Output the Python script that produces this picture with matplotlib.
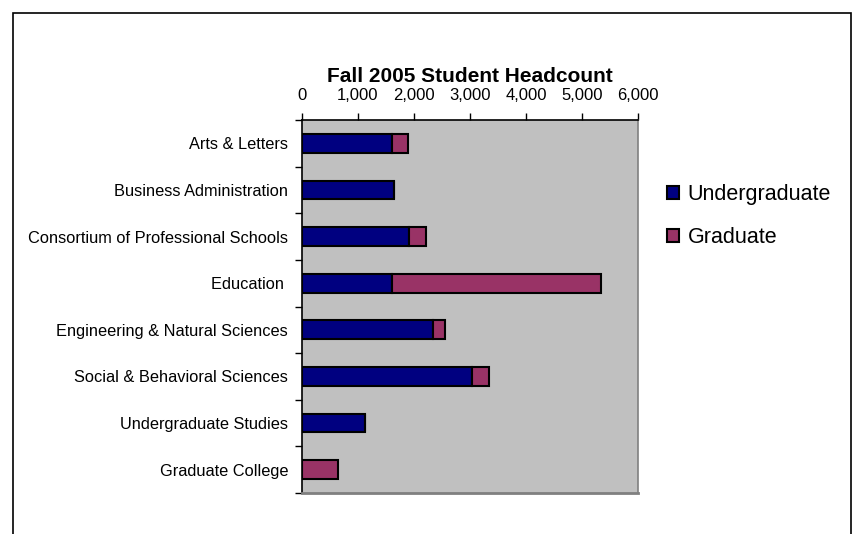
import matplotlib
matplotlib.use('Agg')
import matplotlib.pyplot as plt
import numpy as np

plt.rcParams['font.family'] = ['Liberation Sans', 'DejaVu Sans']

# ─── Data ────────────────────────────────────────────────────────────
colleges = ['Arts & Letters', 'Business Administration', 'Consortium of Professional Schools',
            'Education ', 'Engineering & Natural Sciences', 'Social & Behavioral Sciences',
            'Undergraduate Studies', 'Graduate College']
undergrad = [1615, 1635, 1918, 1614, 2347, 3033, 1132, 0]
graduate = [275, 0, 304, 3724, 215, 304, 0, 649]
xticks = [0, 1000, 2000, 3000, 4000, 5000, 6000]

fig = plt.figure(figsize=(8.64, 5.34), dpi=100)
ax = fig.add_axes([302/864, 1 - 493/534, 336/864, 373/534])
ax.set_facecolor('#c0c0c0')

y = np.arange(len(colleges))
ax.barh(y, undergrad, height=0.4, color='#000080', edgecolor='black', linewidth=1.5,
        label='Undergraduate')
ax.barh(y, graduate, left=undergrad, height=0.4, color='#993366', edgecolor='black',
        linewidth=1.5, label='Graduate')

ax.set_xlim(0, 6000)
ax.set_ylim(len(colleges) - 0.5, -0.5)
ax.set_xticks(xticks)
ax.set_xticklabels([f'{v:,}' for v in xticks], fontsize=12)
ax.xaxis.tick_top()
ax.tick_params(axis='x', direction='out', length=5, width=1, pad=7)

ax.set_yticks(y)
ax.set_yticklabels(colleges, fontsize=11.8)
ax.set_yticks(np.arange(len(colleges) + 1) - 0.5, minor=True)
ax.tick_params(axis='y', which='major', length=0, pad=10)
ax.tick_params(axis='y', which='minor', direction='out', length=5, width=1)

ax.spines['left'].set_color('black')
ax.spines['top'].set_color('black')
ax.spines['right'].set_color('#808080')
ax.spines['bottom'].set_color('#808080')
for s in ax.spines.values():
    s.set_linewidth(1.2)
ax.spines['bottom'].set_linewidth(2)

fig.text(470/864, 1 - 77/534, 'Fall 2005 Student Headcount', fontsize=15,
         weight='bold', ha='center', va='center')

leg = fig.legend(loc='center left', bbox_to_anchor=(667/864, 1 - 216/534), frameon=False,
                 fontsize=15.5, handlelength=0.55, handleheight=0.55, handletextpad=0.4,
                 labelspacing=1.0, borderaxespad=0, borderpad=0)

# outer chart border
fig.patches.append(plt.Rectangle((13/864, -0.05), (851 - 13)/864, 1.05 - 13/534,
                                 transform=fig.transFigure, fill=False,
                                 edgecolor='black', linewidth=1.2))

plt.savefig('out.png', dpi=100, facecolor='white')
